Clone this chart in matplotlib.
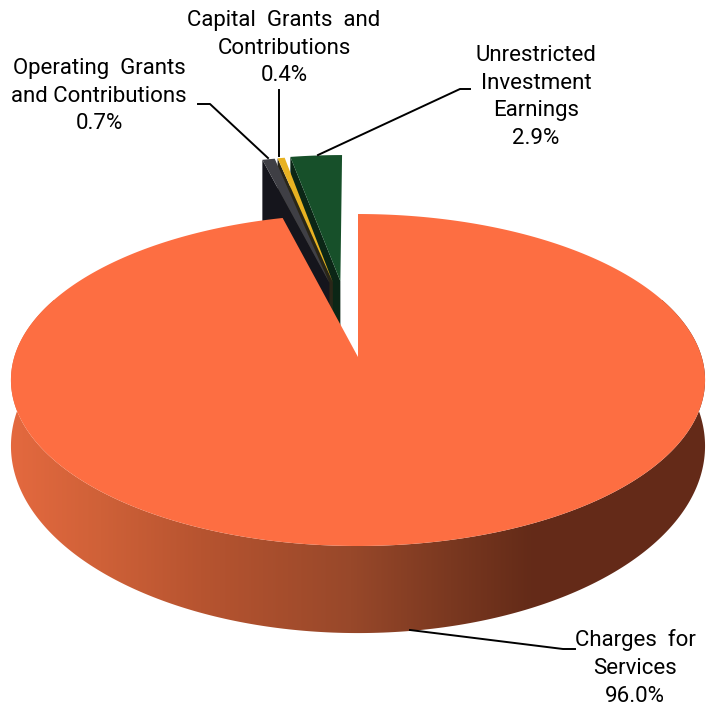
import matplotlib
matplotlib.use("Agg")
import matplotlib.pyplot as plt
import numpy as np
from matplotlib.patches import Polygon

plt.rcParams['font.family'] = ['Roboto', 'DejaVu Sans']

# revenue shares, clockwise from 12 o'clock
categories = ["Charges  for\nServices", "Operating  Grants\nand Contributions",
              "Capital  Grants  and\nContributions", "Unrestricted\nInvestment\nEarnings"]
shares = [96.0, 0.7, 0.4, 2.9]
explode = [0.0, 0.5, 0.5, 0.5]
nudge = [0, 8, 6, -3]
top_colors = ["#fd6e42", "#3f3f45", "#e8b222", "#17502a"]
wall_colors = ["#8a4020", "#15151c", "#2a2618", "#0b2616"]

# pie projection (pixels)
cx, cy = 358, 357
A, B, k = 343.7, 162.8, 0.1386
# lower rim is the upper rim stretched and pushed down
rim_mid, rim_drop, rim_stretch = 380, 66, 1.127


def project(x, y):
    w = 1 + k * y
    return cx + A * x / w, cy - B * y / w


def rim_pts(t0, t1, shift=(0, 0), n=300):
    t = np.radians(np.linspace(t0, t1, n))
    return project(np.sin(t) + shift[0], np.cos(t) + shift[1])


fig = plt.figure(figsize=(7.08, 7.08), dpi=100)
ax = fig.add_axes([0, 0, 1, 1])
ax.set_xlim(0, 708)
ax.set_ylim(708, 0)
ax.axis("off")

edges = np.cumsum([0] + shares) * 3.6

# small exploded slices, far to near
for i in [3, 2, 1]:
    t0, t1 = edges[i], edges[i + 1]
    mid = np.radians((t0 + t1) / 2)
    shift = (explode[i] * np.sin(mid), explode[i] * np.cos(mid))
    xs, ys = rim_pts(t0, t1, shift)
    x0, y0 = project(*shift)
    x0 += nudge[i]
    xs = xs + nudge[i]
    # radial cut face on the left of the slice
    ax.add_patch(Polygon([(xs[0], ys[0]), (x0, y0), (x0, y0 + 70), (xs[0], ys[0] + 70)],
                         fc=wall_colors[i], ec="none", zorder=2 + (3 - i)))
    ax.add_patch(Polygon(np.c_[np.r_[x0, xs], np.r_[y0, ys]], fc=top_colors[i],
                         ec="none", zorder=2.5 + (3 - i)))

# main slice: front wall with a horizontal shade, then the top face
xt, yt = rim_pts(60, 300)
yb = rim_mid + rim_drop + (yt - rim_mid) * rim_stretch
wall = Polygon(np.c_[np.r_[xt, xt[::-1]], np.r_[yt, yb[::-1]]], fc="none", ec="none", zorder=6)
ax.add_patch(wall)
shade_x = [10, 100, 200, 350, 450, 530, 708]
shade_rgb = np.array([[0xe4, 0x69, 0x3f], [0xcf, 0x61, 0x38], [0xb7, 0x54, 0x30],
                      [0x98, 0x48, 0x2a], [0x7a, 0x38, 0x20], [0x64, 0x2b, 0x18],
                      [0x64, 0x2a, 0x18]]) / 255
px = np.arange(10, 708)
shade = np.stack([np.interp(px, shade_x, shade_rgb[:, c]) for c in range(3)], axis=-1)[None, :, :]
im = ax.imshow(shade, extent=(10, 708, 708, 300), aspect="auto", zorder=6)
im.set_clip_path(wall)
ax.set_xlim(0, 708)
ax.set_ylim(708, 0)

xm, ym = rim_pts(edges[0], edges[1], n=720)
ax.add_patch(Polygon(np.c_[np.r_[cx, xm], np.r_[cy, ym]], fc=top_colors[0], ec="none", zorder=7))

# leader lines
leaders = [([410, 563, 575], [630, 649, 649]),
           ([198, 210, 268], [104, 104, 158]),
           ([279, 279], [90, 156]),
           ([470, 460, 318], [89, 89, 155])]
for lx, ly in leaders:
    ax.plot(lx, ly, color="black", lw=1.4, zorder=8)

# labels
label_pos = [(635, 668), (99, 96), (284, 48), (536, 97)]
pcts = ["%.1f%%" % s for s in shares]
for name, pct, (lx, ly) in zip(categories, pcts, label_pos):
    ax.text(lx, ly, name + "\n" + pct, ha="center", va="center", fontsize=16,
            linespacing=1.43, color="black", zorder=9)

fig.savefig("out.png", dpi=100)
